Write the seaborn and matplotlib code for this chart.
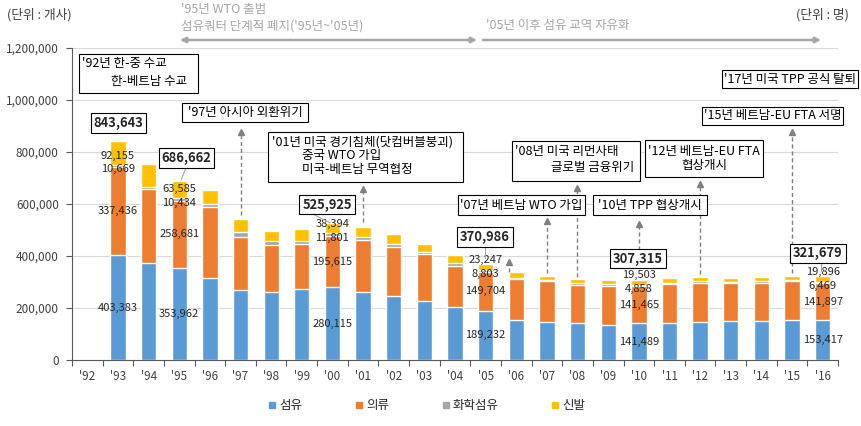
import numpy as np
import pandas as pd
import matplotlib
matplotlib.use("Agg")
import matplotlib.pyplot as plt
import seaborn as sns
from matplotlib import transforms as mtransforms
from matplotlib.patches import Rectangle, FancyArrowPatch
from matplotlib.lines import Line2D
from matplotlib.ticker import FuncFormatter

# ---------------- data ----------------
years = ["'92", "'93", "'94", "'95", "'96", "'97", "'98", "'99", "'00", "'01", "'02", "'03",
         "'04", "'05", "'06", "'07", "'08", "'09", "'10", "'11", "'12", "'13", "'14", "'15", "'16"]
fiber = [np.nan, 403383, 372000, 353962, 316000, 269000, 262000, 272000, 280115, 262000, 246000, 227000,
         204000, 189232, 154000, 148000, 142000, 134000, 141489, 144000, 146000, 149000, 150000, 152000, 153417]
apparel = [np.nan, 337436, 284000, 258681, 271000, 206000, 180000, 174000, 195615, 199000, 190000, 180000,
           158000, 149704, 156000, 155000, 146000, 151000, 141465, 148000, 150000, 146000, 147000, 150000, 141897]
chemical = [np.nan, 10669, 11000, 10434, 12000, 16000, 15000, 13000, 11801, 13000, 10000, 10000,
            11000, 8803, 7000, 6000, 7000, 6000, 4858, 6000, 6000, 5000, 6000, 6000, 6469]
footwear = [np.nan, 92155, 87000, 63585, 55000, 52000, 39000, 45000, 38394, 39000, 37000, 30000,
            30000, 23247, 20000, 16000, 17000, 15000, 19503, 19000, 19000, 16000, 17000, 17000, 19896]
series_names = ["섬유", "의류", "화학섬유", "신발"]
labeled_years = ["'93", "'95", "'00", "'05", "'10", "'16"]

colors = ["#5B9BD5", "#ED7D31", "#A5A5A5", "#FFC000"]

sns.set_style("white")
plt.rcParams["font.family"] = ["Noto Sans CJK KR", "DejaVu Sans"]
plt.rcParams["axes.unicode_minus"] = False

W, H = 861, 426
fig = plt.figure(figsize=(W / 100, H / 100), dpi=100)
ax = fig.add_axes([72 / W, 1 - 360 / H, (838 - 72) / W, (360 - 48) / H])
T = mtransforms.Affine2D().scale(1 / W, -1 / H).translate(0, 1) + fig.transFigure

df = pd.DataFrame({"year": years, "섬유": fiber, "의류": apparel, "화학섬유": chemical, "신발": footwear})
cum = df[series_names].cumsum(axis=1)
cum["year"] = df["year"]

for name, color in reversed(list(zip(series_names, colors))):
    sns.barplot(data=cum, x="year", y=name, order=years, color=color, width=0.5,
                saturation=1, errorbar=None, ax=ax, zorder=2)

ax.set_xlabel("")
ax.set_ylabel("")
ax.set_xlim(-0.5, len(years) - 0.5)
ax.set_ylim(0, 1200000)
ax.set_yticks(np.arange(0, 1200001, 200000))
ax.yaxis.set_major_formatter(FuncFormatter(lambda v, p: f"{v:,.0f}"))
ax.yaxis.grid(True, color="#d9d9d9", lw=0.8)
ax.xaxis.grid(False)
ax.set_axisbelow(True)
for s in ["top", "right"]:
    ax.spines[s].set_visible(False)
for s in ["left", "bottom"]:
    ax.spines[s].set_color("#595959")
    ax.spines[s].set_linewidth(0.8)
ax.set_xticks(np.arange(-0.5, len(years), 1), minor=True)
ax.tick_params(axis="x", which="major", length=0, pad=7, labelsize=8.4, labelcolor="#404040")
ax.tick_params(axis="x", which="minor", length=4, direction="out", color="#595959", width=0.8)
ax.tick_params(axis="y", length=4, direction="out", color="#595959", width=0.8, pad=5.5,
               labelsize=8.5, labelcolor="#404040")
ax.tick_params(axis="both", which="both", bottom=True, left=True)

# ---------- value labels ----------
lab_fs = 8
for yr in labeled_years:
    i = years.index(yr)
    f, a, c, s = fiber[i], apparel[i], chemical[i], footwear[i]
    ax.annotate(f"{f:,}", (i, f / 2), ha="center", va="center", fontsize=lab_fs, zorder=5)
    ax.annotate(f"{a:,}", (i, f + a / 2), ha="center", va="center", fontsize=lab_fs, zorder=5)
    ax.annotate(f"{c:,}", (i, f + a + c / 2), xytext=(0, -2.5), textcoords="offset points",
                ha="center", va="center", fontsize=lab_fs, zorder=5)
    ax.annotate(f"{s:,}", (i, f + a + c / 2), xytext=(0, 7.5), textcoords="offset points",
                ha="center", va="center", fontsize=lab_fs, zorder=5)

totals = df[series_names].sum(axis=1, min_count=1)
total_box_pos = {"'93": (118.5, 123), "'95": (186.5, 158), "'00": (327, 204.5),
                 "'05": (485, 237), "'10": (638, 258.5), "'16": (818, 253.5)}
for yr, (px, py) in total_box_pos.items():
    t = int(totals[years.index(yr)])
    fig.text(px, py, f"{t:,}", transform=T, ha="center", va="center", fontsize=9.3, fontweight="bold",
             bbox=dict(boxstyle="square,pad=0.22", fc="white", ec="black", lw=0.8), zorder=6)

# ---------- helpers ----------
def box(x0, y0, x1, y1):
    fig.add_artist(Rectangle((x0, y0), x1 - x0, y1 - y0, transform=T, fc="white", ec="black",
                             lw=0.8, zorder=5))

def txt(x, y, s, ha="left", fs=9, color="black"):
    fig.text(x, y, s, transform=T, ha=ha, va="center", fontsize=fs, color=color, zorder=7)

def darrow(x, y0, y1):
    fig.add_artist(Line2D([x, x], [y0, y1 + 3], transform=T, color="#808080", lw=1,
                          ls=(0, (3, 2)), zorder=4))
    fig.add_artist(Line2D([x], [y1 + 2], transform=T, color="#808080", marker="^", ms=5,
                          ls="", zorder=4))

def leader(x0, y0, x1, y1):
    fig.add_artist(Line2D([x0, x1], [y0, y1], transform=T, color="#a6a6a6", lw=0.8, zorder=4))

# unit labels
txt(7, 15, "(단위 : 개사)", fs=9.2, color="#404040")
txt(849, 15, "(단위 : 명)", ha="right", fs=9.2, color="#404040")

# top notes
gray = "#a6a6a6"
txt(181, 10, "'95년 WTO 출범", color=gray)
txt(181, 26, "섬유쿼터 단계적 폐지('95년~'05년)", color=gray)
txt(486, 25, "'05년 이후 섬유 교역 자유화", color=gray)
fig.add_artist(FancyArrowPatch((180, 40), (477, 40), transform=T, arrowstyle="<|-|>",
                               mutation_scale=8, color=gray, lw=1.8, shrinkA=0, shrinkB=0))
fig.add_artist(FancyArrowPatch((483, 40), (821, 40), transform=T, arrowstyle="-|>",
                               mutation_scale=8, color=gray, lw=1.8, shrinkA=0, shrinkB=0))

# event boxes
box(79, 54, 198, 93)
txt(82, 64, "'92년 한-중 수교")
txt(111, 82, "한-베트남 수교")

box(182, 103, 308, 122)
txt(245, 112.5, "'97년 아시아 외환위기", ha="center")

box(268, 132, 463, 182)
txt(272, 142, "'01년 미국 경기침체(닷컴버블붕괴)")
txt(302, 156, "중국 WTO 가입")
txt(302, 170, "미국-베트남 무역협정")

box(512, 141, 640, 181)
txt(515, 152, "'08년 미국 리먼사태")
txt(551, 168, "글로벌 금융위기")

box(458, 195, 585, 215)
txt(521.5, 205, "'07년 베트남 WTO 가입", ha="center")

box(593, 195, 707, 215)
txt(650, 205, "'10년 TPP 협상개시", ha="center")

box(645, 140, 763, 177)
txt(704, 151, "'12년 베트남-EU FTA", ha="center")
txt(704, 166, "협상개시", ha="center")

box(702, 107, 843, 125)
txt(772.5, 116, "'15년 베트남-EU FTA 서명", ha="center")

box(722, 70, 858, 88)
txt(790, 79, "'17년 미국 TPP 공식 탈퇴", ha="center")

# dashed arrows
darrow(241, 215, 130)
darrow(363, 222, 187)
darrow(509, 272, 260)
darrow(547, 273, 219)
darrow(577, 277, 186)
darrow(639, 250, 222)
darrow(700, 274, 182)
darrow(792, 273, 130)

# leader lines from total boxes
leader(186, 168, 181, 180)
leader(311, 213, 330, 223)
leader(485, 247, 485, 258)
leader(821, 262, 821, 271)

# legend
handles = [Line2D([], [], marker="s", color=c, ls="", ms=5) for c in colors]
fig.legend(handles, series_names, loc="center", bbox_to_anchor=(427 / W, 1 - 406 / H), ncol=4,
           frameon=False, handlelength=0.6, handletextpad=0.3, columnspacing=4.2, fontsize=9)

fig.savefig("out.png", dpi=100)
